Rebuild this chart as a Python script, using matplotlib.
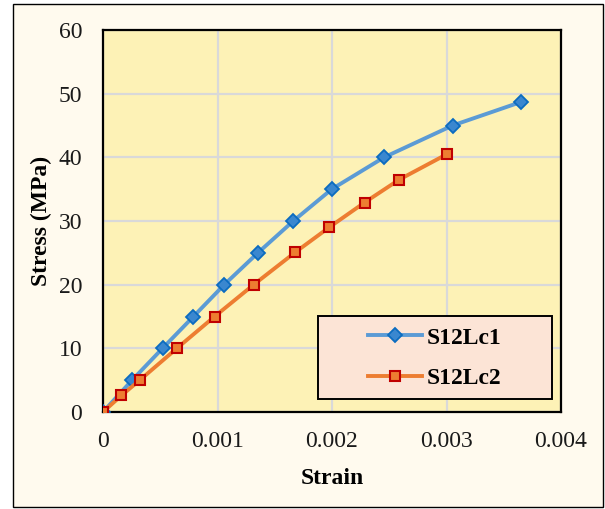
import matplotlib.pyplot as plt
from matplotlib.patches import Rectangle

# Stress-strain readings for the two specimens
strain_lc1 = [0.0, 0.000254, 0.00052, 0.00079, 0.001059, 0.001353, 0.001662,
              0.001998, 0.002455, 0.003053, 0.003652]
stress_lc1 = [0.0, 5.0, 10.0, 15.0, 20.0, 25.0, 30.0, 35.0, 40.0, 45.0, 48.7]

strain_lc2 = [0.0, 0.000161, 0.000321, 0.000645, 0.000975, 0.001316, 0.00168,
              0.001975, 0.002284, 0.002587, 0.003004]
stress_lc2 = [0.0, 2.6, 5.0, 10.0, 15.0, 20.0, 25.1, 29.0, 32.9, 36.5, 40.5]

series_names = ["S12Lc1", "S12Lc2"]
x_ticks = [0, 0.001, 0.002, 0.003, 0.004]
x_tick_labels = ["0", "0.001", "0.002", "0.003", "0.004"]
y_ticks = [0, 10, 20, 30, 40, 50, 60]

W, H = 605, 509
FS = 17
fig = plt.figure(figsize=(W / 100, H / 100), dpi=100)
fig.patch.set_facecolor("white")


def fig_box(x0, y0, x1, y1):
    """Rectangle in figure fraction from pixel corners (top-left origin)."""
    return (x0 / W, 1 - y1 / H), (x1 - x0) / W, (y1 - y0) / H


# cream chart area with a thin black frame
xy, w, h = fig_box(13, 4, 603, 507)
fig.patches.append(Rectangle(xy, w, h, transform=fig.transFigure,
                             facecolor="#FFFAEE", edgecolor="black",
                             linewidth=1.0, zorder=-10))

ax = fig.add_axes([103 / W, 1 - 412 / H, (561 - 103) / W, (412 - 30) / H])
ax.set_facecolor("#FDF2B6")

serif = ["Liberation Serif", "DejaVu Serif"]
plt.rcParams["font.family"] = serif

ax.plot(strain_lc1, stress_lc1, color="#5B9BD5", linewidth=2.8, marker="D",
        markersize=7.5, markerfacecolor="#3A87CF", markeredgecolor="#0B6CC0",
        markeredgewidth=1.3, label=series_names[0], zorder=3)
ax.plot(strain_lc2, stress_lc2, color="#ED7D31", linewidth=2.8, marker="s",
        markersize=7.5, markerfacecolor="#ED7D31", markeredgecolor="#C00000",
        markeredgewidth=1.5, label=series_names[1], zorder=3)

ax.set_xlim(0, 0.004)
ax.set_ylim(0, 60)
ax.set_xticks(x_ticks)
ax.set_xticklabels(x_tick_labels)
ax.set_yticks(y_ticks)
ax.grid(True, color="#D9D9D9", linewidth=1.6, zorder=1)
ax.set_axisbelow(True)
ax.tick_params(length=0, labelsize=FS)
ax.tick_params(axis="x", pad=14)
ax.tick_params(axis="y", pad=15)
for lab in ax.get_xticklabels() + ax.get_yticklabels():
    lab.set_family(serif)
    lab.set_color("#1a1a1a")
for sp in ax.spines.values():
    sp.set_color("black")
    sp.set_linewidth(1.6)

ax.set_xlabel("Strain", fontsize=FS, fontweight="bold", family=serif, labelpad=11)
ax.set_ylabel("Stress (MPa)", fontsize=FS, fontweight="bold", family=serif, labelpad=5)

# legend box
xy, w, h = fig_box(318, 316, 552, 399)
fig.patches.append(Rectangle(xy, w, h, transform=fig.transFigure,
                             facecolor="#FCE4D6", edgecolor="black",
                             linewidth=1.4, zorder=5))
leg = ax.legend(loc="center", bbox_to_anchor=(435 / W, 1 - 358 / H),
                bbox_transform=fig.transFigure, frameon=False,
                prop={"family": serif, "weight": "bold", "size": FS},
                handlelength=2.3, borderpad=0, labelspacing=0.8,
                borderaxespad=0, handletextpad=0.2)
leg.set_zorder(6)
leg.remove()
fig.add_artist(leg)

fig.savefig("out.png", dpi=100, facecolor=fig.get_facecolor())
